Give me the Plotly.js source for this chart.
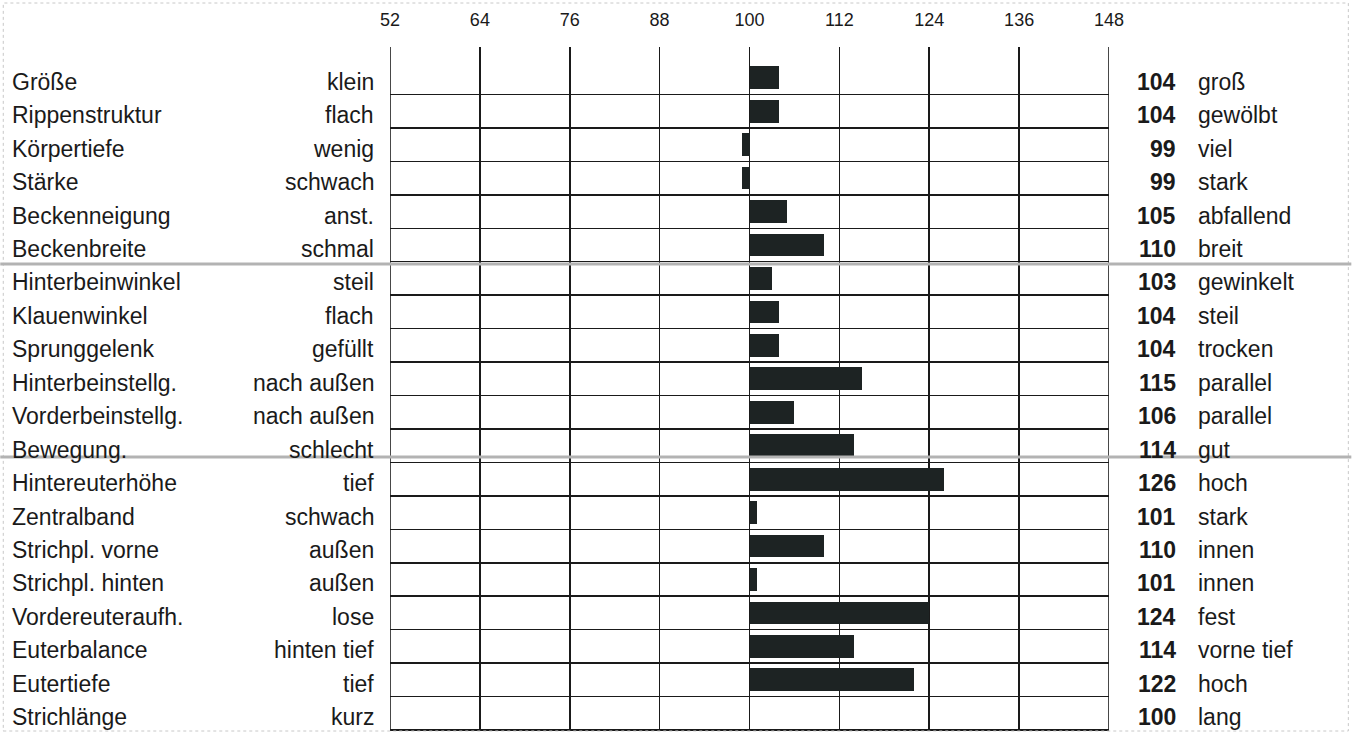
<!DOCTYPE html>
<html>
<head>
<meta charset="utf-8">
<script src="https://cdn.plot.ly/plotly-3.0.1.min.js"></script>
<style>html,body{margin:0;padding:0;background:#fff;}#chart{width:1352px;height:732px;}</style>
</head>
<body>
<div id="chart"></div>
<script>
const traits = ["Größe","Rippenstruktur","Körpertiefe","Stärke","Beckenneigung","Beckenbreite",
  "Hinterbeinwinkel","Klauenwinkel","Sprunggelenk","Hinterbeinstellg.","Vorderbeinstellg.","Bewegung.",
  "Hintereuterhöhe","Zentralband","Strichpl. vorne","Strichpl. hinten","Vordereuteraufh.","Euterbalance","Eutertiefe","Strichlänge"];
const lowLabels = ["klein","flach","wenig","schwach","anst.","schmal",
  "steil","flach","gefüllt","nach außen","nach außen","schlecht",
  "tief","schwach","außen","außen","lose","hinten tief","tief","kurz"];
const highLabels = ["groß","gewölbt","viel","stark","abfallend","breit",
  "gewinkelt","steil","trocken","parallel","parallel","gut",
  "hoch","stark","innen","innen","fest","vorne tief","hoch","lang"];
const values = [104,104,99,99,105,110,103,104,104,115,106,114,126,101,110,101,124,114,122,100];
const tickVals = [52,64,76,88,100,112,124,136,148];
const baseValue = 100;

const W = 1352, H = 732;
const L = 390, R = 1109.5, T = 47, B = 730;
const px2x = p => (p - L) / (R - L);
const py2y = p => (B - p) / (B - T);

const idx = traits.map((_, i) => i);
const font = "Liberation Sans, Arial, sans-serif";
const fs = 23;
const ink = '#1a1a1a';

const annotations = [];
idx.forEach(i => {
  annotations.push({xref:'paper', yref:'y', x:px2x(10), y:i, text:traits[i], showarrow:false,
    xanchor:'left', yanchor:'middle', yshift:-4, font:{family:font, size:fs, color:ink}});
  annotations.push({xref:'paper', yref:'y', x:px2x(376), y:i, text:lowLabels[i], showarrow:false,
    xanchor:'right', yanchor:'middle', yshift:-4, font:{family:font, size:fs, color:ink}});
  annotations.push({xref:'paper', yref:'y', x:px2x(1179), y:i, text:'<b>'+values[i]+'</b>', showarrow:false,
    xanchor:'right', yanchor:'middle', yshift:-4, font:{family:font, size:fs, color:ink}});
  annotations.push({xref:'paper', yref:'y', x:px2x(1197), y:i, text:highLabels[i], showarrow:false,
    xanchor:'left', yanchor:'middle', yshift:-4, font:{family:font, size:fs, color:ink}});
});

const shapes = [
  {type:'line', xref:'x', yref:'paper', x0:tickVals[0], x1:tickVals[0], y0:0, y1:1,
    line:{color:ink, width:1.6}, layer:'below'},
  {type:'line', xref:'x', yref:'paper', x0:tickVals[tickVals.length-1], x1:tickVals[tickVals.length-1], y0:0, y1:1,
    line:{color:ink, width:1.6}, layer:'below'},
  {type:'line', xref:'paper', yref:'paper', x0:0, x1:1, y0:0, y1:0,
    line:{color:ink, width:1.8}, layer:'below'},
  {type:'line', xref:'paper', yref:'paper', x0:px2x(0), x1:px2x(W), y0:py2y(264), y1:py2y(264),
    line:{color:'#b3b3b3', width:3}, layer:'above'},
  {type:'line', xref:'paper', yref:'paper', x0:px2x(0), x1:px2x(W), y0:py2y(457), y1:py2y(457),
    line:{color:'#b3b3b3', width:3}, layer:'above'},
  {type:'rect', xref:'paper', yref:'paper', x0:px2x(3), x1:px2x(1349), y0:py2y(731), y1:py2y(3),
    line:{color:'#c8c8c8', width:1, dash:'dot'}, layer:'below'}
];

const trace = {
  type:'bar', orientation:'h',
  y: idx,
  x: values.map(v => v - baseValue),
  base: baseValue,
  width: 0.68,
  marker:{color:'#1d2323', line:{width:0}},
  hoverinfo:'skip'
};

const layout = {
  width:W, height:H,
  margin:{l:L, r:W-R, t:T, b:H-B, pad:0},
  paper_bgcolor:'#fff', plot_bgcolor:'#fff',
  showlegend:false,
  xaxis:{range:[52,148], side:'top', tickvals:tickVals, ticktext:tickVals.map(String),
    showgrid:true, gridcolor:ink, gridwidth:1.6, zeroline:false, showline:false,
    ticks:'', ticklabelstandoff:16, tickfont:{family:font, size:18, color:ink}, fixedrange:true},
  yaxis:{range:[19.5, -0.92], tickvals:idx.map(i => i + 0.5), showticklabels:false,
    showgrid:true, gridcolor:ink, gridwidth:1.5, zeroline:false, showline:false, ticks:'', fixedrange:true},
  annotations, shapes,
  bargap:0
};

Plotly.newPlot('chart', [trace], layout, {staticPlot:true, displayModeBar:false});
</script>
</body>
</html>
